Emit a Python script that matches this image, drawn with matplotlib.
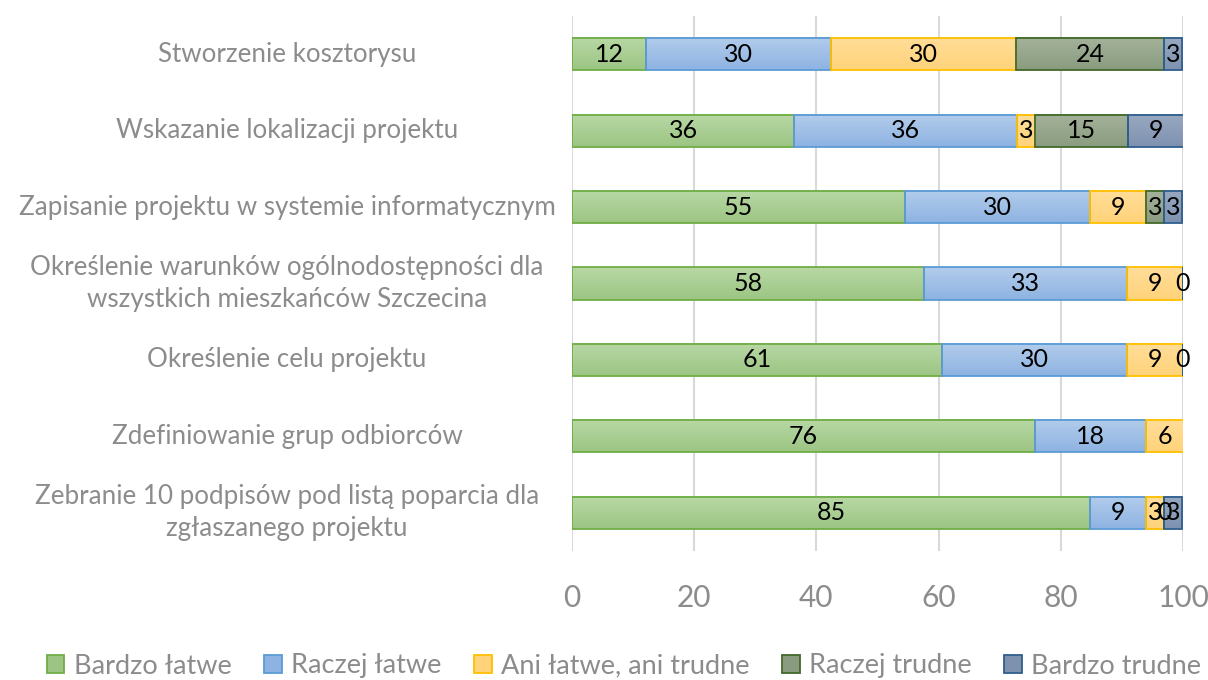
import numpy as np
import matplotlib
matplotlib.use('Agg')
import matplotlib.pyplot as plt
from matplotlib.colors import LinearSegmentedColormap
from matplotlib.patches import Rectangle
from matplotlib.transforms import blended_transform_factory

plt.rcParams['font.family'] = ['Lato', 'DejaVu Sans']

categories = ['Stworzenie kosztorysu',
              'Wskazanie lokalizacji projektu',
              'Zapisanie projektu w systemie informatycznym',
              'Określenie warunków ogólnodostępności dla\nwszystkich mieszkańców Szczecina',
              'Określenie celu projektu',
              'Zdefiniowanie grup odbiorców',
              'Zebranie 10 podpisów pod listą poparcia dla\nzgłaszanego projektu']
series_names = ['Bardzo łatwe', 'Raczej łatwe', 'Ani łatwe, ani trudne',
                'Raczej trudne', 'Bardzo trudne']
nan = np.nan
bardzo_latwe = [12.1, 36.4, 54.5, 57.6, 60.6, 75.8, 84.8]
raczej_latwe = [30.3, 36.4, 30.3, 33.3, 30.3, 18.2, 9.1]
ani_ani = [30.3, 3.0, 9.1, 9.1, 9.1, 6.1, 3.0]
raczej_trudne = [24.2, 15.2, 3.0, 0, 0, nan, 0]
bardzo_trudne = [3.0, 9.1, 3.0, nan, nan, nan, 3.0]
x_ticks = [0, 20, 40, 60, 80, 100]

series = [bardzo_latwe, raczej_latwe, ani_ani, raczej_trudne, bardzo_trudne]
# (top colour, bottom colour, edge colour) - excel style gradient
styles = [('#b8d8a5', '#9cc583', '#70ad47'),
          ('#b2cceb', '#8eb3e2', '#5b9bd5'),
          ('#ffdd98', '#ffd37a', '#ffc000'),
          ('#a4b29a', '#8a9c80', '#43682b'),
          ('#98a8c0', '#7e92b0', '#2f5f8f')]

fig = plt.figure(figsize=(12.08, 6.8), dpi=100)
ax = fig.add_axes([572 / 1208, 1 - 551 / 680, (1183 - 572) / 1208, (551 - 16) / 680])

n = len(categories)
ypos = np.arange(n)[::-1]
bar_h = 0.42
grad = np.linspace(0, 1, 64).reshape(-1, 1)

left = np.zeros(n)
for vals, (ctop, cbot, cedge) in zip(series, styles):
    v = np.array(vals, dtype=float)
    w = np.nan_to_num(v)
    cmap = LinearSegmentedColormap.from_list('g', [ctop, cbot])
    bars = ax.barh(ypos, w, left=left, height=bar_h, facecolor='none',
                   edgecolor=cedge, linewidth=1.3, zorder=4)
    for rect, val in zip(bars, v):
        if np.isnan(val):
            continue
        x0 = rect.get_x()
        y0 = rect.get_y()
        if rect.get_width() > 0:
            ax.imshow(grad, cmap=cmap, aspect='auto', origin='upper',
                      extent=[x0, x0 + rect.get_width(), y0, y0 + bar_h], zorder=3)
        ax.text(x0 + rect.get_width() / 2, y0 + bar_h / 2, str(int(val + 0.5)),
                ha='center', va='center', fontsize=18, color='black', zorder=5)
    left = left + w

ax.set_xlim(0, 100)
ax.set_ylim(-0.5, n - 0.5)
ax.set_xticks(x_ticks)
ax.set_xticklabels([str(t) for t in x_ticks])
ax.set_yticks([])
ax.tick_params(axis='x', length=0, labelsize=21.5, labelcolor='#8c8c8c', pad=24)
ax.grid(axis='x', color='#d9d9d9', linewidth=1.5, zorder=0)
ax.set_axisbelow(True)
for s in ax.spines.values():
    s.set_visible(False)

lab_tr = blended_transform_factory(fig.transFigure, ax.transData)
for y, lab in zip(ypos, categories):
    ax.text(287 / 1208, y, lab, transform=lab_tr,
            ha='center', va='center', fontsize=18.7, color='#8c8c8c', linespacing=1.35)

handles = [Rectangle((0, 0), 1, 1, facecolor=s[1], edgecolor=s[2], linewidth=1.3) for s in styles]
fig.legend(handles, series_names, loc='center', bbox_to_anchor=(624 / 1208, 1 - 666 / 680), ncol=5,
           frameon=False, fontsize=19.5, labelcolor='#8c8c8c', handlelength=0.65, handleheight=0.65,
           handletextpad=0.35, columnspacing=1.2, borderpad=0, borderaxespad=0)

fig.savefig('out.png', dpi=100)
